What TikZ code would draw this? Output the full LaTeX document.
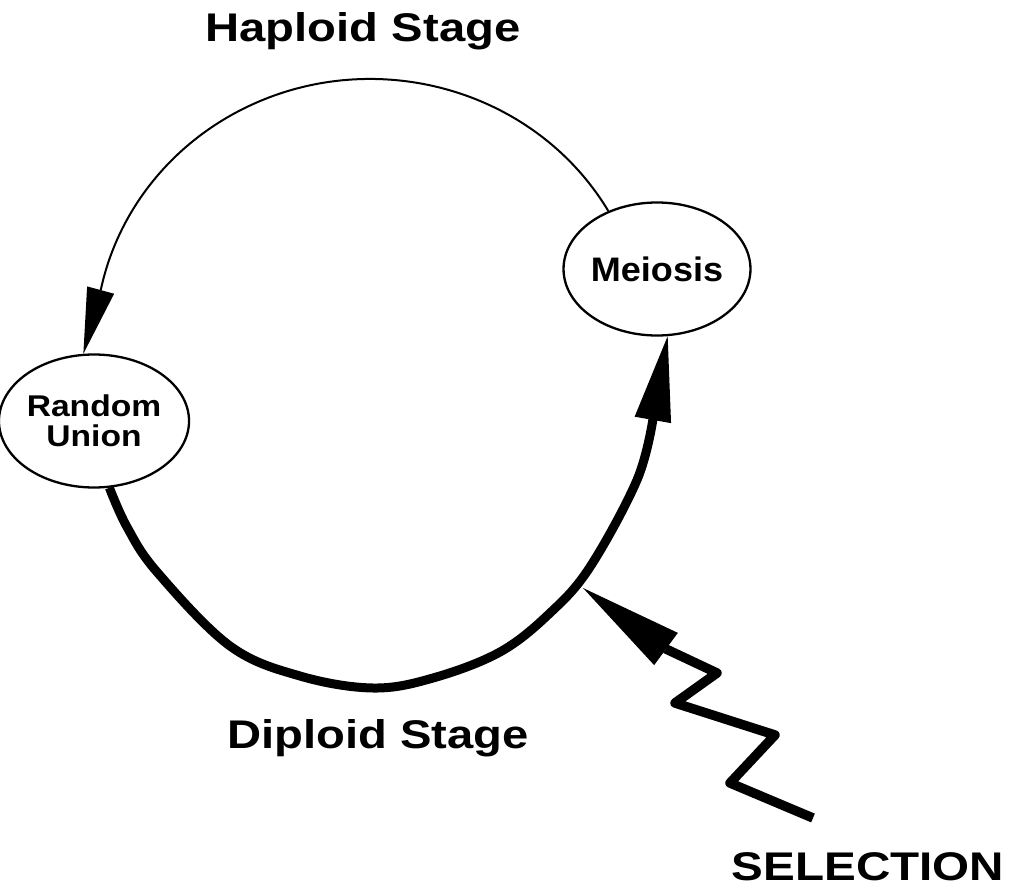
\documentclass[tikz,border=0pt]{standalone}
\usepackage{fontspec}
\setmainfont{Liberation Sans}
\usetikzlibrary{shapes.geometric,arrows.meta}
\begin{document}
\begin{tikzpicture}[x=1pt,y=-1pt,
  stagebox/.style={ellipse, draw, line width=2.3pt, minimum width=170pt,
    minimum height=133pt, inner sep=0pt, align=center},
  title/.style={anchor=base, inner sep=0pt, font=\bfseries\fontsize{40}{48}\selectfont},
  thinflow/.style={line width=2pt,
    -{Triangle[length=66pt,width=28pt,line width=0pt]}},
  thickflow/.style={line width=9pt, line join=round,
    -{Triangle[length=85pt,width=37pt,line width=0pt]}},
  bolt/.style={line width=9.5pt, line join=round,
    -{Triangle[length=103pt,width=40pt,line width=0pt]}}
]
\useasboundingbox (0,0) rectangle (1010,888);

% the two stages of the cycle
\node[stagebox, font=\bfseries\fontsize{34}{36}\selectfont] (mei) at (657,269)
  {\scalebox{1.06}[1]{Meiosis}};
\node[stagebox, font=\bfseries\fontsize{30}{30}\selectfont] (ru) at (94,421)
  {\scalebox{1.12}[1]{Random}\\\scalebox{1.12}[1]{Union}};

% haploid half: thin arc over the top
\draw[thinflow] (mei.130)
  arc[start angle=-30, end angle=-168, x radius=275, y radius=264]
  -- (ru.99);

% diploid half: thick arc along the bottom
\draw[thickflow] plot[smooth, tension=0.6] coordinates
  {(ru.283) (127,527) (157,572) (230,646) (300,676) (373,688) (433,678)
   (500,652) (550,613) (590,567) (637,480) (653,419)} -- (mei.279);

% selection acting on the diploid stage
\coordinate (sel) at (813,818);
\coordinate (hit) at (583,588);
\draw[bolt] (sel) -- (730,783) -- (775,735) -- (675,703) -- (717,673)
  -- (666,649) -- (hit);

% labels
\node[title] (hap) at (363,42) {\scalebox{1.18}[1]{Haploid Stage}};
\node[title] (dip) at (378,748) {\scalebox{1.18}[1]{Diploid Stage}};
\node[title] (selt) at (868,880) {\scalebox{1.19}[1]{SELECTION}};
\end{tikzpicture}
\end{document}
